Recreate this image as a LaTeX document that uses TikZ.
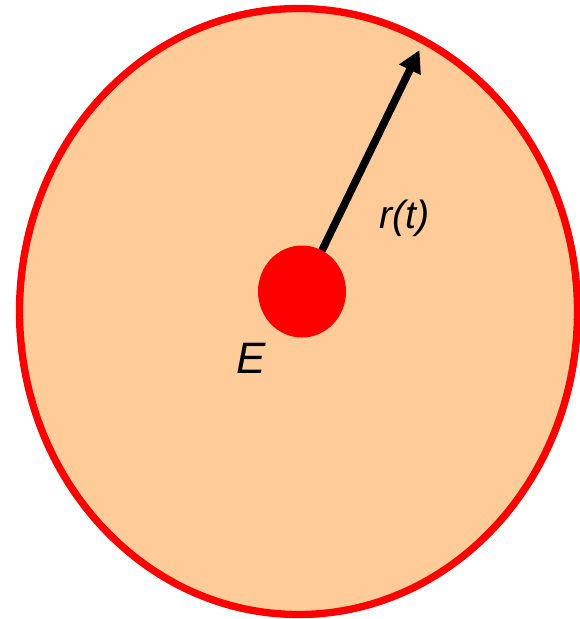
\documentclass[tikz,border=0pt]{standalone}
\usepackage{fontspec}
\setmainfont{Liberation Sans}
\usetikzlibrary{arrows.meta}
\definecolor{peach}{HTML}{FFCC99}
\definecolor{pured}{HTML}{FF0000}
\tikzset{
  region/.style={draw=pured, fill=peach, line width=5.5pt},
  body/.style={fill=pured, draw=none},
  vec/.style={line width=5.75pt, -{Triangle[length=16.5pt,width=17pt]}},
  lbl/.style={inner sep=0pt, anchor=center, text=black}
}
\begin{document}
\begin{tikzpicture}[x=0.75pt,y=-0.75pt]
\useasboundingbox (0,0) rectangle (580,619);
\path[region] (298.5,311.5) ellipse [x radius=279, y radius=303];
\coordinate (c) at (302,291.5);
\coordinate (tip) at (419.5,50);
\draw[vec] (c) -- (tip);
\path[body] (c) ellipse [x radius=44, y radius=46];
\node[lbl, font=\fontsize{29.5pt}{33pt}\selectfont\itshape] (r) at (404.5,218) {r(t)};
\node[lbl, font=\fontsize{33pt}{36pt}\selectfont\itshape] (e) at (251.5,358) {E};
\end{tikzpicture}
\end{document}
